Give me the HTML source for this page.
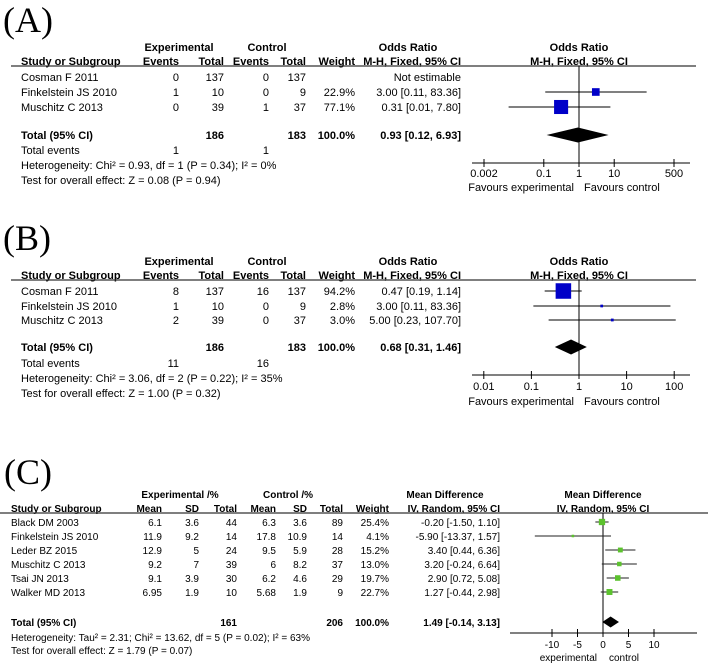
<!DOCTYPE html>
<html><head><meta charset="utf-8"><style>
html,body{margin:0;padding:0;background:#fff;}
svg{display:block;font-family:"Liberation Sans",Arial,sans-serif;font-size:11px;}
.lbl{font-family:"Liberation Serif",serif;font-size:36px;}
.c{font-size:10px;}
</style></head><body>
<svg id="fig" width="708" height="667" viewBox="0 0 708 667" xmlns="http://www.w3.org/2000/svg">
<text class="lbl" x="3" y="32">(A)</text>
<text class="lbl" x="3" y="250">(B)</text>
<text class="lbl" x="4" y="484">(C)</text>
</svg>
<script>
// Panel A data
const aStudies = ["Cosman F  2011", "Finkelstein JS 2010", "Muschitz C 2013"];
const aExpEvents = ["0", "1", "0"];
const aExpTotal = ["137", "10", "39"];
const aCtlEvents = ["0", "0", "1"];
const aCtlTotal = ["137", "9", "37"];
const aWeight = [null, 22.9, 77.1];
const aOR = [null, 3.00, 0.31];
const aLow = [null, 0.11, 0.01];
const aHigh = [null, 83.36, 7.80];
const aCIText = ["Not estimable", "3.00 [0.11, 83.36]", "0.31 [0.01, 7.80]"];
const aTotal = [0.93, 0.12, 6.93];
const aTicks = [0.002, 0.1, 1, 10, 500];
const aTickLabels = ["0.002", "0.1", "1", "10", "500"];
// Panel B data
const bStudies = ["Cosman F  2011", "Finkelstein JS 2010", "Muschitz C 2013"];
const bExpEvents = ["8", "1", "2"];
const bExpTotal = ["137", "10", "39"];
const bCtlEvents = ["16", "0", "0"];
const bCtlTotal = ["137", "9", "37"];
const bWeight = [94.2, 2.8, 3.0];
const bOR = [0.47, 3.00, 5.00];
const bLow = [0.19, 0.11, 0.23];
const bHigh = [1.14, 83.36, 107.70];
const bCIText = ["0.47 [0.19, 1.14]", "3.00 [0.11, 83.36]", "5.00 [0.23, 107.70]"];
const bTotal = [0.68, 0.31, 1.46];
const bTicks = [0.01, 0.1, 1, 10, 100];
const bTickLabels = ["0.01", "0.1", "1", "10", "100"];
// Panel C data
const cStudies = ["Black DM  2003", "Finkelstein JS  2010", "Leder BZ  2015", "Muschitz C  2013", "Tsai JN  2013", "Walker MD  2013"];
const cExpMean = ["6.1", "11.9", "12.9", "9.2", "9.1", "6.95"];
const cExpSD = ["3.6", "9.2", "5", "7", "3.9", "1.9"];
const cExpTotal = ["44", "14", "24", "39", "30", "10"];
const cCtlMean = ["6.3", "17.8", "9.5", "6", "6.2", "5.68"];
const cCtlSD = ["3.6", "10.9", "5.9", "8.2", "4.6", "1.9"];
const cCtlTotal = ["89", "14", "28", "37", "29", "9"];
const cWeight = [25.4, 4.1, 15.2, 13.0, 19.7, 22.7];
const cMD = [-0.20, -5.90, 3.40, 3.20, 2.90, 1.27];
const cLow = [-1.50, -13.37, 0.44, -0.24, 0.72, -0.44];
const cHigh = [1.10, 1.57, 6.36, 6.64, 5.08, 2.98];
const cCIText = ["-0.20 [-1.50, 1.10]", "-5.90 [-13.37, 1.57]", "3.40 [0.44, 6.36]", "3.20 [-0.24, 6.64]", "2.90 [0.72, 5.08]", "1.27 [-0.44, 2.98]"];
const cTotal = [1.49, -0.14, 3.13];
const cTicks = [-10, -5, 0, 5, 10];
const cTickLabels = ["-10", "-5", "0", "5", "10"];

const NS = "http://www.w3.org/2000/svg";
const svg = document.getElementById("fig");
let curClass = null;
function T(x, y, s, anchor, bold, name) {
  const el = document.createElementNS(NS, "text");
  el.setAttribute("x", x); el.setAttribute("y", y + 4);
  el.setAttribute("text-anchor", anchor);
  if (bold) el.setAttribute("font-weight", "bold");
  if (curClass) el.setAttribute("class", curClass);
  el.textContent = s;
  
  
  svg.appendChild(el); return el;
}
function L(x1, y1, x2, y2, name, color, w) {
  const el = document.createElementNS(NS, "line");
  el.setAttribute("x1", x1); el.setAttribute("y1", y1);
  el.setAttribute("x2", x2); el.setAttribute("y2", y2);
  el.setAttribute("stroke", color || "#000"); el.setAttribute("stroke-width", w || 1);
  
  
  svg.appendChild(el); return el;
}
function R(cx, cy, s, fill, name) {
  const el = document.createElementNS(NS, "rect");
  el.setAttribute("x", cx - s / 2); el.setAttribute("y", cy - s / 2);
  el.setAttribute("width", s); el.setAttribute("height", s); el.setAttribute("fill", fill);
  
  
  svg.appendChild(el); return el;
}
function D(x1, xc, x2, cy, h, name) {
  const el = document.createElementNS(NS, "polygon");
  el.setAttribute("points", `${x1},${cy} ${xc},${cy - h / 2} ${x2},${cy} ${xc},${cy + h / 2}`);
  el.setAttribute("fill", "#000");
  
  
  svg.appendChild(el); return el;
}

function orPanel(p, Y, d) {
  const xs = v => d.cx + Math.log10(v) * d.dec;
  T(179, Y.h1, "Experimental", "middle", true, p + "-experimental-header");
  T(267, Y.h1, "Control", "middle", true, p + "-control-header");
  T(408, Y.h1, "Odds Ratio", "middle", true, p + "-odds-ratio-header");
  T(d.cx, Y.h1, "Odds Ratio", "middle", true, p + "-plot-header");
  T(21, Y.h2, "Study or Subgroup", "start", true, p + "-study-header");
  T(179, Y.h2, "Events", "end", true, p + "-exp-events-header");
  T(224, Y.h2, "Total", "end", true, p + "-exp-total-header");
  T(269, Y.h2, "Events", "end", true, p + "-ctl-events-header");
  T(306, Y.h2, "Total", "end", true, p + "-ctl-total-header");
  T(355, Y.h2, "Weight", "end", true, p + "-weight-header");
  T(461, Y.h2, "M-H, Fixed, 95% CI", "end", true, p + "-method-header");
  T(d.cx, Y.h2, "M-H, Fixed, 95% CI", "middle", true, p + "-plot-method-header");
  L(11, Y.line, 696, Y.line, p + "-header-rule", "#333", 1.2);
  L(d.cx, Y.line, d.cx, Y.axis, p + "-null-line");
  for (let i = 0; i < d.st.length; i++) {
    const y = Y.rows[i];
    T(21, y, d.st[i], "start", false, p + "-study-name");
    T(179, y, d.ee[i], "end", false, p + "-exp-events");
    T(224, y, d.et[i], "end", false, p + "-exp-total");
    T(269, y, d.ce[i], "end", false, p + "-ctl-events");
    T(306, y, d.ct[i], "end", false, p + "-ctl-total");
    if (d.w[i] != null) T(355, y, d.w[i].toFixed(1) + "%", "end", false, p + "-weight");
    T(461, y, d.ci[i], "end", false, p + "-ci-text");
    if (d.or[i] != null) {
      L(xs(d.lo[i]), y, xs(d.hi[i]), y, p + "-ci-line");
      R(xs(d.or[i]), y, Math.max(2, Math.sqrt(d.w[i]) * 1.6), "#0000c8", p + "-study-square");
    }
  }
  T(21, Y.total, "Total (95% CI)", "start", true, p + "-total-label");
  T(224, Y.total, "186", "end", true, p + "-exp-total-n");
  T(306, Y.total, "183", "end", true, p + "-ctl-total-n");
  T(355, Y.total, "100.0%", "end", true, p + "-total-weight");
  T(461, Y.total, d.tot[0].toFixed(2) + " [" + d.tot[1].toFixed(2) + ", " + d.tot[2].toFixed(2) + "]", "end", true, p + "-total-ci");
  D(xs(d.tot[1]), xs(d.tot[0]), xs(d.tot[2]), Y.total, 15, p + "-total-diamond");
  T(21, Y.ev, "Total events", "start", false, p + "-total-events-label");
  T(179, Y.ev, d.tev[0], "end", false, p + "-exp-total-events");
  T(269, Y.ev, d.tev[1], "end", false, p + "-ctl-total-events");
  T(21, Y.het, d.het, "start", false, p + "-heterogeneity");
  T(21, Y.test, d.test, "start", false, p + "-overall-effect");
  L(472, Y.axis, 690, Y.axis, p + "-x-axis");
  for (let i = 0; i < d.ticks.length; i++) {
    L(xs(d.ticks[i]), Y.axis - 4, xs(d.ticks[i]), Y.axis + 4, p + "-tick");
    T(xs(d.ticks[i]), Y.tick, d.tl[i], "middle", false, p + "-tick-label");
  }
  T(d.cx - 5, Y.fav, "Favours experimental", "end", false, p + "-favours-experimental");
  T(d.cx + 5, Y.fav, "Favours control", "start", false, p + "-favours-control");
}

orPanel("panel-a", {h1:47,h2:61,line:66,rows:[77,92,107],total:135,ev:150,het:165,test:180,axis:163,tick:173,fav:187},
  {cx:579,dec:35.2,st:aStudies,ee:aExpEvents,et:aExpTotal,ce:aCtlEvents,ct:aCtlTotal,w:aWeight,or:aOR,lo:aLow,hi:aHigh,ci:aCIText,tot:aTotal,
   tev:["1","1"],het:"Heterogeneity: Chi\u00b2 = 0.93, df = 1 (P = 0.34); I\u00b2 = 0%",test:"Test for overall effect: Z = 0.08 (P = 0.94)",ticks:aTicks,tl:aTickLabels});
orPanel("panel-b", {h1:261,h2:275,line:280,rows:[291,306,320],total:347,ev:363,het:378,test:393,axis:375,tick:386,fav:401},
  {cx:579,dec:47.6,st:bStudies,ee:bExpEvents,et:bExpTotal,ce:bCtlEvents,ct:bCtlTotal,w:bWeight,or:bOR,lo:bLow,hi:bHigh,ci:bCIText,tot:bTotal,
   tev:["11","16"],het:"Heterogeneity: Chi\u00b2 = 3.06, df = 2 (P = 0.22); I\u00b2 = 35%",test:"Test for overall effect: Z = 1.00 (P = 0.32)",ticks:bTicks,tl:bTickLabels});

// Panel C
curClass = "c";
(function () {
  const p = "panel-c", cx = 603, u = 5.1;
  const xs = v => cx + v * u;
  const Y = {h1:494,h2:508,line:513,rows:[522,536,550,564,578,592],total:622,het:637,test:650,axis:633,tick:644,lab:657};
  T(180, Y.h1, "Experimental /%", "middle", true, p + "-experimental-header");
  T(288, Y.h1, "Control /%", "middle", true, p + "-control-header");
  T(445, Y.h1, "Mean Difference", "middle", true, p + "-mean-difference-header");
  T(cx, Y.h1, "Mean Difference", "middle", true, p + "-plot-header");
  T(11, Y.h2, "Study or Subgroup", "start", true, p + "-study-header");
  T(162, Y.h2, "Mean", "end", true, p + "-exp-mean-header");
  T(199, Y.h2, "SD", "end", true, p + "-exp-sd-header");
  T(237, Y.h2, "Total", "end", true, p + "-exp-total-header");
  T(276, Y.h2, "Mean", "end", true, p + "-ctl-mean-header");
  T(307, Y.h2, "SD", "end", true, p + "-ctl-sd-header");
  T(343, Y.h2, "Total", "end", true, p + "-ctl-total-header");
  T(389, Y.h2, "Weight", "end", true, p + "-weight-header");
  T(500, Y.h2, "IV, Random, 95% CI", "end", true, p + "-method-header");
  T(cx, Y.h2, "IV, Random, 95% CI", "middle", true, p + "-plot-method-header");
  L(0, Y.line, 708, Y.line, p + "-header-rule", "#333", 1.2);
  L(cx, Y.line, cx, Y.axis, p + "-null-line");
  for (let i = 0; i < cStudies.length; i++) {
    const y = Y.rows[i];
    T(11, y, cStudies[i], "start", false, p + "-study-name");
    T(162, y, cExpMean[i], "end", false, p + "-exp-mean");
    T(199, y, cExpSD[i], "end", false, p + "-exp-sd");
    T(237, y, cExpTotal[i], "end", false, p + "-exp-total");
    T(276, y, cCtlMean[i], "end", false, p + "-ctl-mean");
    T(307, y, cCtlSD[i], "end", false, p + "-ctl-sd");
    T(343, y, cCtlTotal[i], "end", false, p + "-ctl-total");
    T(389, y, cWeight[i].toFixed(1) + "%", "end", false, p + "-weight");
    T(500, y, cCIText[i], "end", false, p + "-ci-text");
    L(xs(cLow[i]), y, xs(cHigh[i]), y, p + "-ci-line", "#222");
    R(xs(cMD[i]), y, Math.max(2, Math.sqrt(cWeight[i]) * 1.25), "#5cc22e", p + "-study-square");
  }
  T(11, Y.total, "Total (95% CI)", "start", true, p + "-total-label");
  T(237, Y.total, "161", "end", true, p + "-exp-total-n");
  T(343, Y.total, "206", "end", true, p + "-ctl-total-n");
  T(389, Y.total, "100.0%", "end", true, p + "-total-weight");
  T(500, Y.total, cTotal[0].toFixed(2) + " [" + cTotal[1].toFixed(2) + ", " + cTotal[2].toFixed(2) + "]", "end", true, p + "-total-ci");
  D(xs(cTotal[1]), xs(cTotal[0]), xs(cTotal[2]), Y.total, 11, p + "-total-diamond");
  T(11, Y.het, "Heterogeneity: Tau\u00b2 = 2.31; Chi\u00b2 = 13.62, df = 5 (P = 0.02); I\u00b2 = 63%", "start", false, p + "-heterogeneity");
  T(11, Y.test, "Test for overall effect: Z = 1.79 (P = 0.07)", "start", false, p + "-overall-effect");
  L(510, Y.axis, 697, Y.axis, p + "-x-axis");
  for (let i = 0; i < cTicks.length; i++) {
    L(xs(cTicks[i]), Y.axis - 4, xs(cTicks[i]), Y.axis + 4, p + "-tick");
    T(xs(cTicks[i]), Y.tick, cTickLabels[i], "middle", false, p + "-tick-label");
  }
  T(cx - 6, Y.lab, "experimental", "end", false, p + "-favours-experimental");
  T(cx + 6, Y.lab, "control", "start", false, p + "-favours-control");
})();
</script>
</body></html>
